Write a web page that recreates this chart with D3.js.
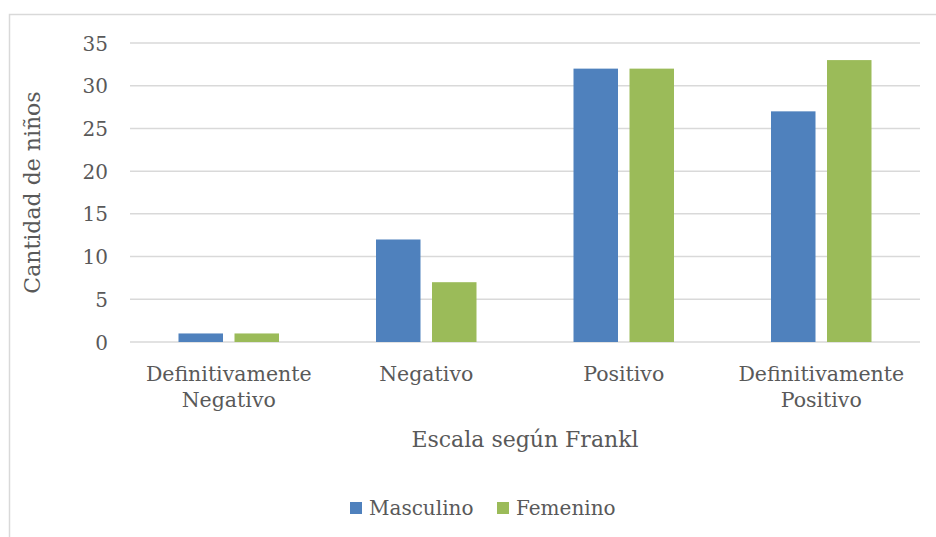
<!DOCTYPE html>
<html>
<head>
<meta charset="utf-8">
<script src="https://cdn.jsdelivr.net/npm/d3@7"></script>
<style>
  html, body { margin: 0; padding: 0; background: #fff; }
  svg { display: block; }
  text { font-family: "DejaVu Serif", serif; fill: #595959; }
</style>
</head>
<body>
<div id="chart"></div>
<script>
// Frankl behaviour scale, counted by sex
const categories = [["Definitivamente", "Negativo"], ["Negativo"], ["Positivo"], ["Definitivamente", "Positivo"]];
const seriesNames = ["Masculino", "Femenino"];
const masculino = [1, 12, 32, 27];
const femenino = [1, 7, 32, 33];
const yTicks = [0, 5, 10, 15, 20, 25, 30, 35];
const colors = ["#4F81BD", "#9BBB59"];

const W = 936, H = 537;
const svg = d3.select("#chart").append("svg").attr("width", W).attr("height", H);

// chart area border
svg.append("rect").attr("x", 9.5).attr("y", 14.5).attr("width", W + 10).attr("height", H + 10)
  .attr("fill", "#fff").attr("stroke", "#D9D9D9").attr("stroke-width", 1.5);

const plot = { left: 130, right: 920, top: 43, bottom: 342 };

const x = d3.scaleBand().domain(d3.range(categories.length))
  .range([plot.left, plot.right]).paddingInner(0).paddingOuter(0);
const y = d3.scaleLinear().domain([0, 35]).range([plot.bottom, plot.top]);

// horizontal gridlines
svg.append("g").selectAll("line").data(yTicks).join("line")
  .attr("x1", plot.left).attr("x2", plot.right)
  .attr("y1", d => y(d)).attr("y2", d => y(d))
  .attr("stroke", "#D9D9D9").attr("stroke-width", 1.5);

// y axis labels
const yAxis = d3.axisLeft(y).tickValues(yTicks).tickSize(0).tickPadding(0);
const gy = svg.append("g").attr("transform", `translate(${plot.left - 22},0)`).call(yAxis);
gy.select(".domain").remove();
gy.selectAll("text").attr("font-size", 20).attr("fill", "#595959")
  .style("font-family", "'DejaVu Serif', serif").attr("dy", "0.35em");

// bars
const barW = 44.5, gap = 11.5;
const series = [masculino, femenino];
series.forEach((vals, si) => {
  svg.append("g").selectAll("rect").data(vals).join("rect")
    .attr("x", (d, i) => x(i) + x.bandwidth() / 2 - (barW * 2 + gap) / 2 + si * (barW + gap))
    .attr("y", d => y(d))
    .attr("width", barW)
    .attr("height", d => y(0) - y(d))
    .attr("fill", colors[si]);
});

// category labels
const cat = svg.append("g");
categories.forEach((lines, i) => {
  const t = cat.append("text").attr("text-anchor", "middle").attr("font-size", 20.5)
    .attr("x", x(i) + x.bandwidth() / 2).attr("y", 381);
  lines.forEach((ln, j) => {
    t.append("tspan").attr("x", x(i) + x.bandwidth() / 2).attr("dy", j === 0 ? 0 : 26).text(ln);
  });
});

// axis titles
svg.append("text").attr("text-anchor", "middle").attr("font-size", 22)
  .attr("x", (plot.left + plot.right) / 2).attr("y", 447).text("Escala según Frankl");
svg.append("text").attr("text-anchor", "middle").attr("font-size", 22)
  .attr("transform", `translate(40,${(plot.top + plot.bottom) / 2}) rotate(-90)`)
  .text("Cantidad de niños");

// legend
const legendX = [350, 497];
const lg = svg.append("g");
seriesNames.forEach((name, i) => {
  lg.append("rect").attr("x", legendX[i]).attr("y", 502).attr("width", 12).attr("height", 12)
    .attr("fill", colors[i]);
  lg.append("text").attr("x", legendX[i] + 19).attr("y", 515).attr("font-size", 20).text(name);
});
</script>
</body>
</html>
